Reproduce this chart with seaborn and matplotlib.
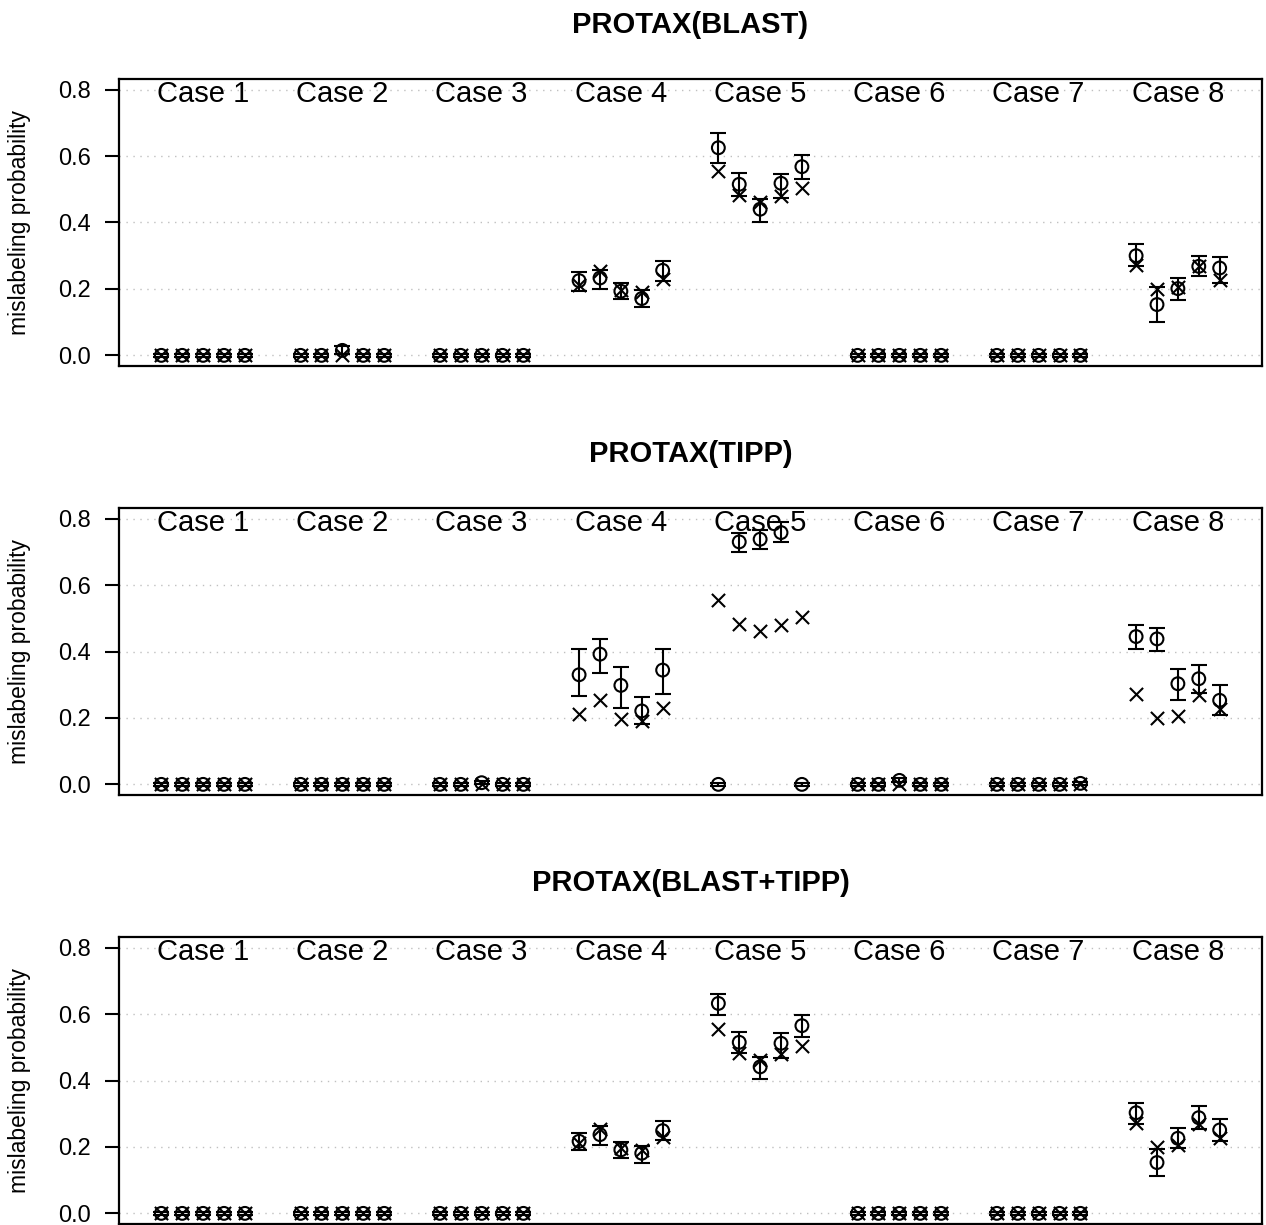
import numpy as np
import pandas as pd
import matplotlib
matplotlib.use("Agg")
import matplotlib.pyplot as plt
import seaborn as sns

# ---------------- data ----------------
cases = ["Case 1", "Case 2", "Case 3", "Case 4", "Case 5", "Case 6", "Case 7", "Case 8"]
offsets = [-0.3, -0.15, 0.0, 0.15, 0.3]
panel_titles = ["PROTAX(BLAST)", "PROTAX(TIPP)", "PROTAX(BLAST+TIPP)"]
yticks = [0.0, 0.2, 0.4, 0.6, 0.8]
ytick_labels = ["0.0", "0.2", "0.4", "0.6", "0.8"]

Z = [0.0, 0.0, 0.0, 0.0, 0.0]
ZL = [-0.004] * 5
ZH = [0.004] * 5

# true mislabeling probabilities (crosses)
true_vals = [
    Z, Z, Z,
    [0.213, 0.254, 0.197, 0.190, 0.230],
    [0.555, 0.483, 0.462, 0.479, 0.505],
    Z, Z,
    [0.273, 0.201, 0.205, 0.270, 0.228],
]

# PROTAX(BLAST) estimates with intervals
blast_est = [Z, [0, 0, 0.015, 0, 0], Z,
             [0.225, 0.233, 0.193, 0.171, 0.256],
             [0.625, 0.515, 0.440, 0.518, 0.568],
             Z, Z,
             [0.300, 0.153, 0.201, 0.268, 0.263]]
blast_lo = [ZL, [-0.004, -0.004, 0.005, -0.004, -0.004], ZL,
            [0.195, 0.200, 0.170, 0.146, 0.223],
            [0.580, 0.480, 0.401, 0.473, 0.530],
            ZL, ZL,
            [0.268, 0.100, 0.166, 0.238, 0.218]]
blast_hi = [ZH, [0.004, 0.004, 0.027, 0.004, 0.004], ZH,
            [0.250, 0.258, 0.218, 0.196, 0.285],
            [0.668, 0.548, 0.471, 0.546, 0.603],
            ZH, ZH,
            [0.335, 0.205, 0.233, 0.300, 0.296]]

# PROTAX(TIPP)
tipp_est = [Z, Z, [0, 0, 0.005, 0, 0],
            [0.330, 0.392, 0.298, 0.221, 0.344],
            [0.000, 0.730, 0.738, 0.758, 0.000],
            [0, 0, 0.012, 0, 0], [0, 0, 0, 0, 0.003],
            [0.445, 0.438, 0.303, 0.318, 0.253]]
tipp_lo = [ZL, ZL, [-0.004, -0.004, 0.001, -0.004, -0.004],
           [0.266, 0.334, 0.231, 0.181, 0.271],
           [-0.004, 0.700, 0.710, 0.729, -0.004],
           [-0.004, -0.004, 0.006, -0.004, -0.004], [-0.004, -0.004, -0.004, -0.004, -0.001],
           [0.408, 0.401, 0.253, 0.275, 0.210]]
tipp_hi = [ZH, ZH, [0.004, 0.004, 0.009, 0.004, 0.004],
           [0.408, 0.437, 0.352, 0.263, 0.407],
           [0.004, 0.757, 0.765, 0.789, 0.004],
           [0.004, 0.004, 0.018, 0.004, 0.004], [0.004, 0.004, 0.004, 0.004, 0.007],
           [0.480, 0.471, 0.348, 0.358, 0.300]]

# PROTAX(BLAST+TIPP)
both_est = [Z, Z, Z,
            [0.217, 0.237, 0.191, 0.181, 0.249],
            [0.632, 0.515, 0.441, 0.512, 0.565],
            Z, Z,
            [0.303, 0.153, 0.226, 0.288, 0.251]]
both_lo = [ZL, ZL, ZL,
           [0.191, 0.206, 0.167, 0.151, 0.221],
           [0.597, 0.482, 0.406, 0.468, 0.530],
           ZL, ZL,
           [0.268, 0.113, 0.196, 0.253, 0.218]]
both_hi = [ZH, ZH, ZH,
           [0.242, 0.264, 0.216, 0.204, 0.279],
           [0.660, 0.545, 0.472, 0.542, 0.597],
           ZH, ZH,
           [0.333, 0.193, 0.258, 0.323, 0.283]]

panels = [(blast_est, blast_lo, blast_hi),
          (tipp_est, tipp_lo, tipp_hi),
          (both_est, both_lo, both_hi)]

# ---------------- figure ----------------
sns.set_theme(style="white")
plt.rcParams["font.family"] = ["Liberation Sans", "DejaVu Sans"]
plt.rcParams["text.color"] = "black"
plt.rcParams["axes.labelcolor"] = "black"
plt.rcParams["ytick.color"] = "black"
plt.rcParams["xtick.color"] = "black"

W, H = 1266, 1225
fig = plt.figure(figsize=(W / 100, H / 100), dpi=100)

# axes boxes in pixels: (left, top, right, bottom)
boxes = [(119, 79, 1262, 366), (119, 508, 1262, 795), (119, 937, 1262, 1224)]

lw = 1.5
for (est, lo, hi), title, (l, t, r, b) in zip(panels, panel_titles, boxes):
    ax = fig.add_axes([l / W, 1 - b / H, (r - l) / W, (b - t) / H])
    rows = []
    for i, c in enumerate(cases):
        for j, off in enumerate(offsets):
            rows.append(dict(x=i + off, est=est[i][j], lo=lo[i][j], hi=hi[i][j],
                             true=true_vals[i][j]))
    df = pd.DataFrame(rows)

    ax.yaxis.grid(True, linestyle=(0, (1, 4)), color="#c0c0c0", linewidth=1.0)
    ax.set_axisbelow(True)

    ax.errorbar(df["x"], df["est"],
                yerr=[df["est"] - df["lo"], df["hi"] - df["est"]],
                fmt="none", ecolor="black", elinewidth=lw, capsize=5.5, capthick=lw, zorder=3)
    sns.scatterplot(data=df, x="x", y="est", marker="o", s=85, facecolors="none",
                    edgecolor="black", linewidth=lw, ax=ax, zorder=4)
    sns.scatterplot(data=df, x="x", y="true", marker="x", s=90, color="black",
                    linewidth=lw, ax=ax, zorder=4)

    for i, c in enumerate(cases):
        ax.text(i, 0.763, c, ha="center", va="baseline", fontsize=21, color="black", zorder=2)

    ax.set_xlim(-0.604, 7.604)
    ax.set_ylim(-0.032, 0.832)
    ax.set_xticks([])
    ax.set_yticks(yticks)
    ax.set_yticklabels(ytick_labels, fontsize=17, color="black")
    ax.tick_params(axis="y", left=True, length=10, width=lw, pad=10, color="black")
    ax.set_xlabel("")
    ax.set_ylabel("mislabeling probability", fontsize=16.5, color="black")
    ax.yaxis.set_label_coords(-0.077, 0.5)
    for s in ax.spines.values():
        s.set_visible(True)
        s.set_color("black")
        s.set_linewidth(1.6)
    ax.text(0.5, 1 + 54 / (b - t), title, transform=ax.transAxes, ha="center",
            va="center", fontsize=21, fontweight="bold", color="black")

fig.savefig("out.png", dpi=100)
